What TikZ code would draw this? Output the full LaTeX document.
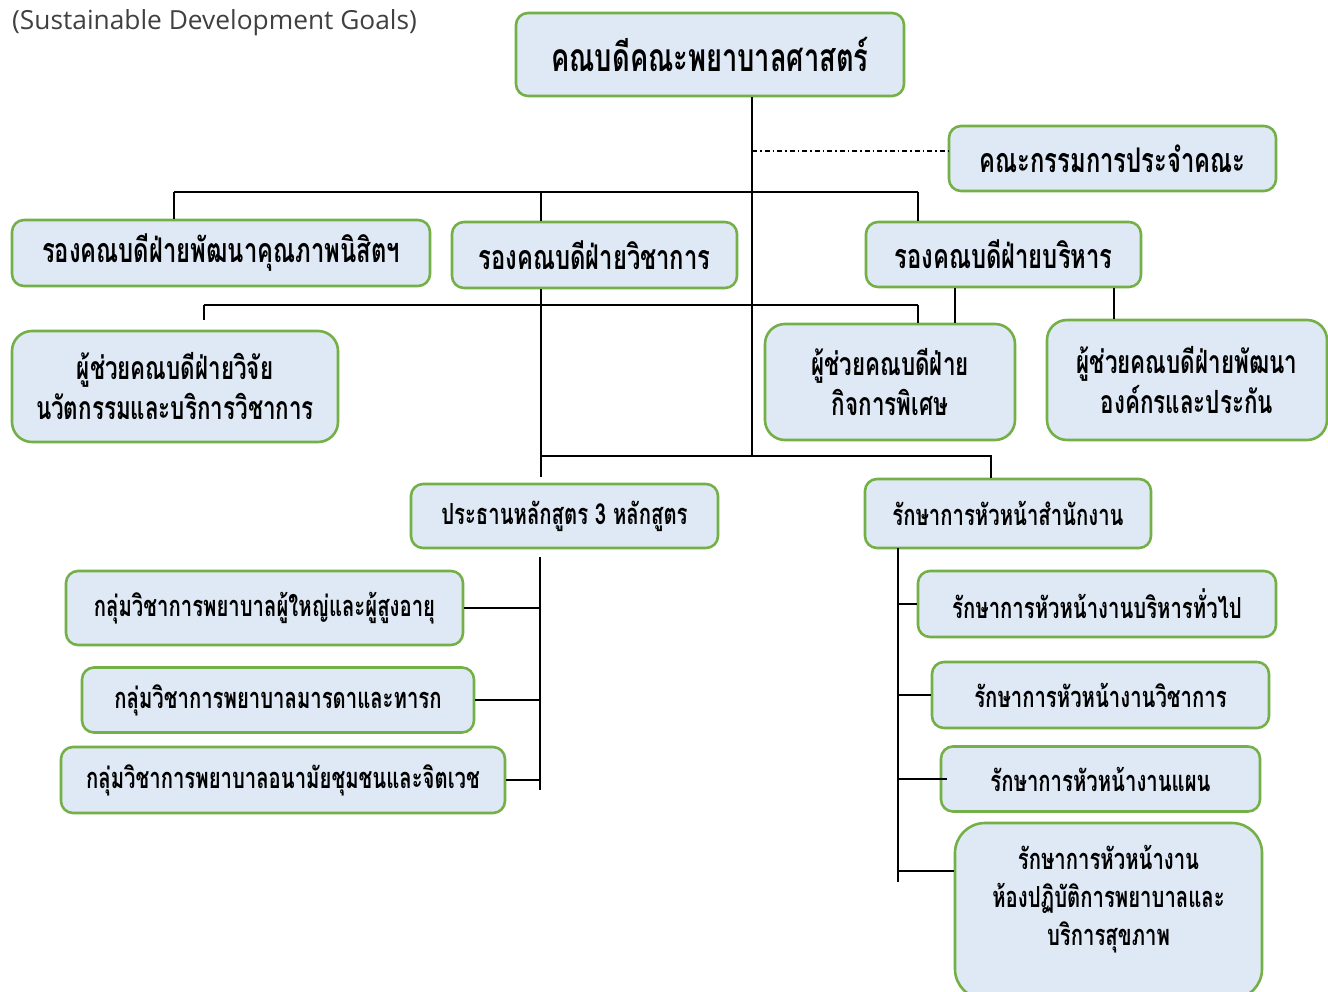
\documentclass[tikz,border=0pt]{standalone}
\usepackage{fontspec}
\newfontfamily\thaifont[Script=Thai, FakeStretch=0.7]{Loma}
\newfontfamily\latinfont{Open Sans}
\usetikzlibrary{calc}
\definecolor{boxfill}{HTML}{DEE9F5}
\definecolor{boxline}{HTML}{74B047}
\definecolor{sdgtext}{HTML}{404040}
\tikzset{
  box/.style={draw=boxline, line width=2.6pt, fill=boxfill, rounded corners=12pt,
    align=center, inner sep=0pt, font=\thaifont\bfseries\fontsize{34}{40}\selectfont},
  boxdean/.style={box, font=\thaifont\bfseries\fontsize{39}{44}\selectfont},
  boxtwo/.style={box, rounded corners=20pt, font=\thaifont\bfseries\fontsize{32}{40}\selectfont},
  boxsmall/.style={box, font=\thaifont\bfseries\fontsize{29}{38}\selectfont},
  conn/.style={draw=black, line width=1.2pt},
  dashdot/.style={conn, dash pattern=on 5pt off 3pt on 1.5pt off 3pt},
}
\begin{document}
\begin{tikzpicture}[x=1pt,y=-1pt]
\clip (0,0) rectangle (1328,992);
\fill[white] (0,0) rectangle (1328,992);

\node[anchor=base west, inner sep=0pt, text=sdgtext, font=\latinfont\fontsize{26.3}{30}\selectfont] (sdg) at (12,30) {(Sustainable Development Goals)};

% boxes
\node[boxdean, minimum width=388pt, minimum height=83pt] (dean) at (710,54.5) {คณบดีคณะพยาบาลศาสตร์};
\node[box, minimum width=327pt, minimum height=65pt] (comm) at (1112.5,158.5) {คณะกรรมการประจำคณะ};
\node[box, minimum width=418pt, minimum height=66pt] (v1) at (221,253) {รองคณบดีฝ่ายพัฒนาคุณภาพนิสิตฯ};
\node[box, minimum width=285pt, minimum height=66pt] (v2) at (594.5,255) {รองคณบดีฝ่ายวิชาการ};
\node[box, minimum width=275pt, minimum height=65pt] (v3) at (1003.5,254.5) {รองคณบดีฝ่ายบริหาร};
\node[boxtwo, minimum width=326pt, minimum height=111pt] (a1) at (175,386.5) {ผู้ช่วยคณบดีฝ่ายวิจัย\\นวัตกรรมและบริการวิชาการ};
\node[boxtwo, minimum width=250pt, minimum height=116pt] (a2) at (890,382) {ผู้ช่วยคณบดีฝ่าย\\กิจการพิเศษ};
\node[boxtwo, minimum width=280pt, minimum height=120pt] (a3) at (1187,380) {ผู้ช่วยคณบดีฝ่ายพัฒนา\\องค์กรและประกัน};
\node[boxsmall, minimum width=307pt, minimum height=64pt] (prog) at (564.5,516) {ประธานหลักสูตร 3 หลักสูตร};
\node[boxsmall, minimum width=286pt, minimum height=69pt] (off) at (1008,513.5) {รักษาการหัวหน้าสำนักงาน};
\node[boxsmall, minimum width=397pt, minimum height=74pt] (g1) at (264.5,608) {กลุ่มวิชาการพยาบาลผู้ใหญ่และผู้สูงอายุ};
\node[boxsmall, minimum width=392pt, minimum height=65pt] (g2) at (278,700) {กลุ่มวิชาการพยาบาลมารดาและทารก};
\node[boxsmall, minimum width=444pt, minimum height=66pt] (g3) at (283,780) {กลุ่มวิชาการพยาบาลอนามัยชุมชนและจิตเวช};
\node[boxsmall, minimum width=358pt, minimum height=66pt] (r1) at (1097,604) {รักษาการหัวหน้างานบริหารทั่วไป};
\node[boxsmall, minimum width=337pt, minimum height=66pt] (r2) at (1100.5,695) {รักษาการหัวหน้างานวิชาการ};
\node[boxsmall, minimum width=319pt, minimum height=65pt] (r3) at (1100.5,779) {รักษาการหัวหน้างานแผน};
\node[boxsmall, rounded corners=30pt, minimum width=307pt, minimum height=176pt] (r4) at (1108.5,911) {};
\node[align=center, inner sep=0pt, font=\thaifont\bfseries\fontsize{29}{38}\selectfont] (r4t) at (1108.5,899) {รักษาการหัวหน้างาน\\ห้องปฏิบัติการพยาบาลและ\\บริการสุขภาพ};

% junction coordinates
\coordinate (tk) at (752,96);
\coordinate (tkc) at (752,151);
\coordinate (tkb) at (752,456);
\coordinate (b1L) at (174,192);
\coordinate (b1M) at (541,192);
\coordinate (b1R) at (918,192);
\coordinate (b2L) at (204,305);
\coordinate (b2R) at (918,305);
\coordinate (a1s) at (204,320);
\coordinate (b3L) at (541,456);
\coordinate (b3R) at (991,456);
\coordinate (pe) at (541,477);
\coordinate (x3a) at (955,0);
\coordinate (x3b) at (1114,0);
\coordinate (lgT) at (540,557);
\coordinate (lgB) at (540,790);
\coordinate (rgT) at (898,548);
\coordinate (rgB) at (898,882);

% connectors
\draw[conn] (tk |- dean.south) -- (tkb);
\draw[dashdot] (tkc) -- (tkc -| comm.west);
\draw[conn] (b1L) -- (b1R);
\draw[conn] (b1L) -- (b1L |- v1.north);
\draw[conn] (b1M) -- (b1M |- v2.north);
\draw[conn] (b1R) -- (b1R |- v3.north);
\draw[conn] (b1M |- v2.south) -- (pe);
\draw[conn] (b2L) -- (b2R);
\draw[conn] (b2L) -- (a1s);
\draw[conn] (b2R) -- (b2R |- a2.north);
\draw[conn] (x3a |- v3.south) -- (x3a |- a2.north);
\draw[conn] (x3b |- v3.south) -- (x3b |- a3.north);
\draw[conn] (b3L) -- (b3R) -- (b3R |- off.north);
\draw[conn] (lgT) -- (lgB);
\draw[conn] (g1.east) -- (g1.east -| lgT);
\draw[conn] (g2.east) -- (g2.east -| lgT);
\draw[conn] (g3.east) -- (g3.east -| lgT);
\draw[conn] (rgT) -- (rgB);
\draw[conn] (r1.west -| rgT) -- (r1.west);
\draw[conn] (r2.west -| rgT) -- (r2.west);
\draw[conn] (r3.west -| rgT) -- ($(r3.west)+(7,0)$);
\draw[conn] (rgT |- 0,871) -- (r4.west |- 0,871);
\end{tikzpicture}
\end{document}
